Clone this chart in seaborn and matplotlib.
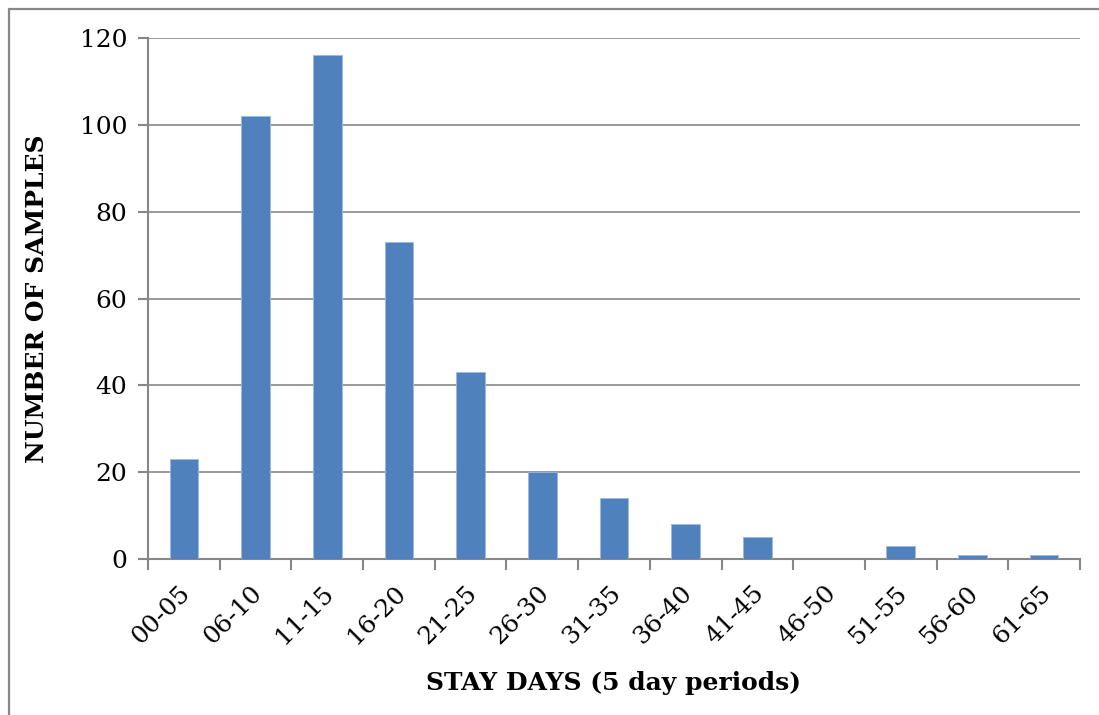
import matplotlib
matplotlib.use("Agg")
import matplotlib.pyplot as plt
import matplotlib.transforms as mtransforms
import seaborn as sns
import pandas as pd
from matplotlib.lines import Line2D

categories = ["00-05", "06-10", "11-15", "16-20", "21-25", "26-30", "31-35",
              "36-40", "41-45", "46-50", "51-55", "56-60", "61-65"]
samples = [23, 102, 116, 73, 43, 20, 14, 8, 5, 0, 3, 1, 1]
y_ticks = [0, 20, 40, 60, 80, 100, 120]

sns.set_theme(style="white")
plt.rcParams['font.family'] = ['DejaVu Serif']
plt.rcParams['text.color'] = 'black'
plt.rcParams['axes.labelcolor'] = 'black'
plt.rcParams['xtick.labelcolor'] = 'black'
plt.rcParams['ytick.labelcolor'] = 'black'

df = pd.DataFrame({"cat": categories, "n": samples})

fig = plt.figure(figsize=(10.99, 7.15), dpi=100)
ax = fig.add_axes([148/1099, 1-559/715, (1080-148)/1099, (559-38)/715])

sns.barplot(data=df, x="cat", y="n", ax=ax, color="#4F81BD", saturation=1,
            width=0.4, edgecolor="#9DB9DD", linewidth=0.6, zorder=3)

grey = "#878787"
ax.set_ylim(0, 120)
ax.set_xlim(-0.5, len(categories) - 0.5)
ax.set_yticks(y_ticks)
ax.set_yticklabels([str(t) for t in y_ticks], fontsize=18)
ax.yaxis.grid(True, color=grey, linewidth=1.2, zorder=0)
ax.set_axisbelow(True)

ax.set_xticks([i for i in range(len(categories))])
ax.set_xticklabels(categories, rotation=45, ha="right", rotation_mode="anchor", fontsize=18)
ax.tick_params(axis="x", length=0, pad=16)
offset = mtransforms.ScaledTranslation(-5/100, 0, fig.dpi_scale_trans)
for lbl in ax.get_xticklabels():
    lbl.set_transform(lbl.get_transform() + offset)
ax.set_xticks([i - 0.5 for i in range(len(categories) + 1)], minor=True)
ax.tick_params(axis="x", which="minor", length=8, width=1.5, color=grey, bottom=True)
ax.tick_params(axis="y", length=7, width=1.5, color=grey, left=True, pad=8)

for s in ["top", "right"]:
    ax.spines[s].set_visible(False)
for s in ["left", "bottom"]:
    ax.spines[s].set_color(grey)
    ax.spines[s].set_linewidth(1.5)

ax.set_xlabel("STAY DAYS (5 day periods)", fontsize=18, fontweight="bold", labelpad=16)
ax.set_ylabel("NUMBER OF SAMPLES", fontsize=18, fontweight="bold", labelpad=22)

# outer frame (left and top edges visible)
fig.add_artist(Line2D([9/1099, 9/1099], [0, 1-8.5/715], transform=fig.transFigure,
                      color=grey, linewidth=1.6))
fig.add_artist(Line2D([9/1099, 1], [1-8.5/715, 1-8.5/715], transform=fig.transFigure,
                      color=grey, linewidth=1.6))

fig.savefig("out.png", dpi=100)
